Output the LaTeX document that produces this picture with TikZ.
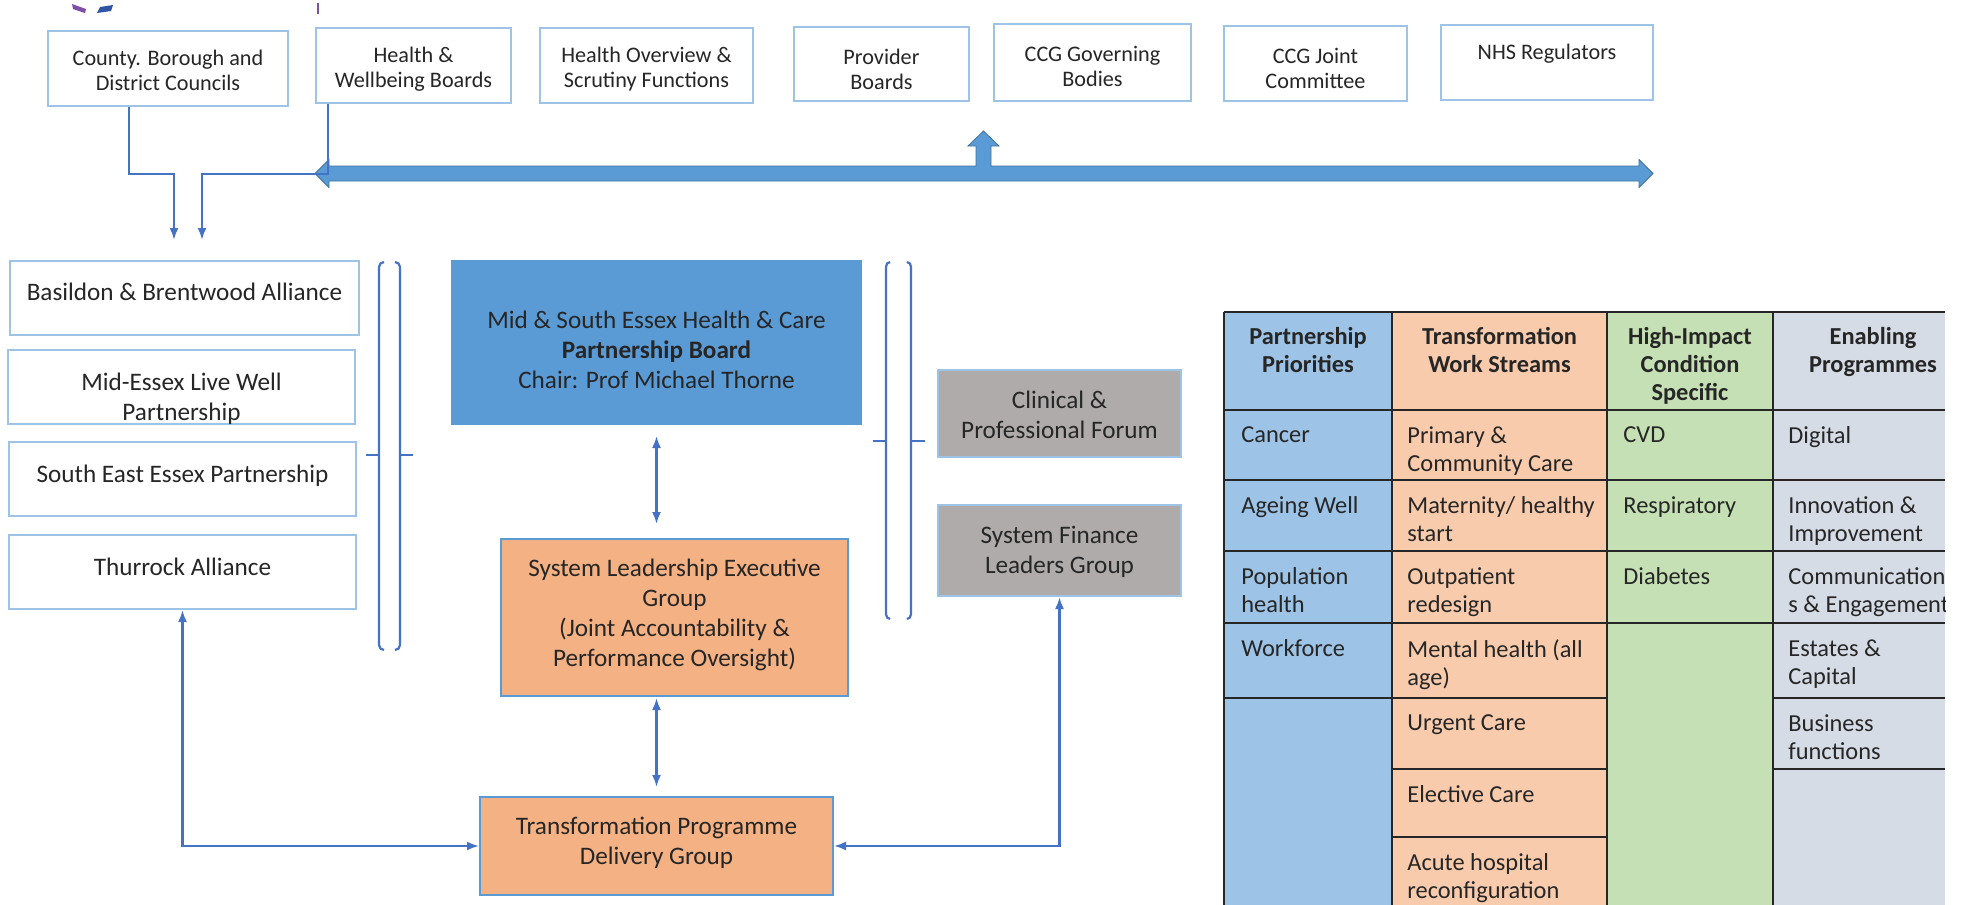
\documentclass[tikz,border=0pt]{standalone}
\usepackage{fontspec}
\setmainfont{Carlito}
\usetikzlibrary{arrows.meta}
\definecolor{lnblue}{HTML}{4472C4}
\definecolor{bdblue}{HTML}{9DC3E6}
\definecolor{boardfill}{HTML}{5B9BD5}
\definecolor{orfill}{HTML}{F4B183}
\definecolor{gyfill}{HTML}{AFABAB}
\definecolor{tblue}{HTML}{9DC3E6}
\definecolor{tpeach}{HTML}{F8CBAD}
\definecolor{tgreen}{HTML}{C5E0B4}
\definecolor{tgrey}{HTML}{D6DCE5}
\definecolor{txtc}{HTML}{262626}
\definecolor{arrfill}{HTML}{5B9BD5}
\definecolor{arrdraw}{HTML}{41719C}
\definecolor{logopurple}{HTML}{7F4FA8}
\definecolor{logoblue}{HTML}{2F55A4}
\tikzset{
  box/.style={draw=bdblue, line width=1pt, fill=white, inner sep=0pt},
  gbox/.style={draw=bdblue, line width=1pt, fill=gyfill, inner sep=0pt},
  obox/.style={draw=boardfill, line width=1pt, fill=orfill, inner sep=0pt},
  bbox/.style={draw=boardfill, line width=1pt, fill=boardfill, inner sep=0pt},
  toptxt/.style={text=txtc, align=center, inner sep=0pt, font=\fontsize{11.1}{12.5}\selectfont},
  midtxt/.style={text=txtc, align=center, inner sep=0pt, font=\fontsize{12.6}{15}\selectfont},
  cell/.style={text=txtc, align=left, anchor=north west, inner sep=0pt, font=\fontsize{12.2}{14}\selectfont},
  head/.style={text=txtc, align=center, anchor=north, inner sep=0pt, font=\fontsize{12.2}{14}\selectfont\bfseries},
  conn/.style={draw=lnblue, line width=1.1pt},
  tip/.style={-{Latex[length=6pt,width=4.5pt]}},
  tips/.style={{Latex[length=6pt,width=4.5pt]}-{Latex[length=6pt,width=4.5pt]}},
  brk/.style={draw=lnblue, line width=1.1pt},
  tline/.style={draw=txtc, line width=1.2pt},
}
\begin{document}
\begin{tikzpicture}[x=0.5pt,y=-0.5pt]
\useasboundingbox (0,0) rectangle (1961,905);
\fill[white] (0,0) rectangle (1961,905);

% logo fragments
\fill[logopurple] (72,4) -- (86,9) -- (85,13) -- (73,9) -- cycle;
\fill[logoblue] (97,13) -- (100,7) -- (113,5) -- (111,11) -- cycle;
\draw[logopurple, line width=1pt] (318,3) -- (318,14);

% top boxes
\node[box, minimum width=120pt, minimum height=37.5pt] (county) at (168,68.5) {};
\node[toptxt] (countyT) at (168,70) {County. Borough and\\District Councils};
\node[box, minimum width=97.5pt, minimum height=37.5pt] (hw) at (413.5,65.5) {};
\node[toptxt] (hwT) at (413.5,69.5) {Health \&\\Wellbeing Boards};
\node[box, minimum width=106.5pt, minimum height=37.5pt] (hosf) at (646.5,65.5) {};
\node[toptxt] (hosfT) at (646.5,69.5) {Health Overview \&\\Scrutiny Functions};
\node[box, minimum width=87.5pt, minimum height=37pt] (prov) at (881.5,64) {};
\node[toptxt] (provT) at (881.5,69) {Provider\\Boards};
\node[box, minimum width=98.5pt, minimum height=38.5pt] (ccgg) at (1092.5,62.5) {};
\node[toptxt] (ccggT) at (1092.5,66) {CCG Governing\\Bodies};
\node[box, minimum width=91.5pt, minimum height=37.5pt] (ccgj) at (1315.5,63.5) {};
\node[toptxt] (ccgjT) at (1315.5,68) {CCG Joint\\Committee};
\node[box, minimum width=106pt, minimum height=37.5pt] (nhs) at (1547,62.5) {};
\node[toptxt] (nhsT) at (1547,54) {NHS Regulators};

% big blue arrow
\filldraw[fill=arrfill, draw=arrdraw, line width=0.4pt]
  (315,173.5) -- (329,159.5) -- (329,166) -- (976,166) -- (976,146) -- (968,146)
  -- (983.5,131) -- (999,146) -- (991,146) -- (991,166) -- (1639,166) -- (1639,159.5)
  -- (1653,173.5) -- (1639,187.5) -- (1639,181) -- (329,181) -- (329,187.5) -- cycle;

% left boxes
\node[box, minimum width=174.5pt, minimum height=37pt] (bas) at (184.5,298) {};
\node[midtxt] (basT) at (184.5,291.5) {Basildon \& Brentwood Alliance};
\node[box, minimum width=173.5pt, minimum height=37pt] (mid) at (181.5,387) {};
\node[midtxt] (midT) at (181.5,398.5) {Mid-Essex Live Well\\Partnership};
\node[box, minimum width=173.5pt, minimum height=37pt] (see) at (182.5,479) {};
\node[midtxt] (seeT) at (182.5,475.5) {South East Essex Partnership};
\node[box, minimum width=173.5pt, minimum height=37pt] (thur) at (182.5,572) {};
\node[midtxt] (thurT) at (182.5,566.5) {Thurrock Alliance};

% connectors from top
\coordinate (j1) at (174,240);
\coordinate (j2) at (202,240);
\draw[conn, tip] ([xshift=-19.5pt]county.south) -- ++(0,67) -| (j1);
\draw[conn, tip] ([xshift=-42.75pt]hw.south) -- ++(0,70) -| (j2);

% centre boxes
\node[bbox, minimum width=204.5pt, minimum height=81.5pt] (board) at (656.5,342.5) {};
\node[midtxt] (boardT) at (656.5,350) {Mid \& South Essex Health \& Care\\\textbf{Partnership Board}\\Chair: Prof Michael Thorne};
\node[obox, minimum width=173.5pt, minimum height=78.5pt] (sleg) at (674.5,617.5) {};
\node[midtxt] (slegT) at (674.5,614.5) {System Leadership Executive\\Group\\(Joint Accountability \&\\Performance Oversight)};
\node[obox, minimum width=176.5pt, minimum height=49pt] (tpdg) at (656.5,846) {};
\node[midtxt] (tpdgT) at (656.5,843) {Transformation Programme\\Delivery Group};
\node[gbox, minimum width=121.5pt, minimum height=43.5pt] (clin) at (1059.5,413.5) {};
\node[midtxt] (clinT) at (1059.5,414.5) {Clinical \&\\Professional Forum};
\node[gbox, minimum width=121.5pt, minimum height=45.5pt] (fin) at (1059.5,550.5) {};
\node[midtxt] (finT) at (1059.5,552) {System Finance\\Leaders Group};

% brackets
\draw[brk] (384,262) to[out=180,in=90] (379,267) -- (379,645) to[out=-90,in=180] (384,650);
\draw[brk] (379,455) -- (366,455);
\draw[brk] (395,262) to[out=0,in=90] (400,267) -- (400,645) to[out=-90,in=0] (395,650);
\draw[brk] (400,455) -- (413,455);
\draw[brk] (890,262) to[out=180,in=90] (886,267) -- (886,614) to[out=-90,in=180] (890,619);
\draw[brk] (886,441) -- (873,441);
\draw[brk] (907,262) to[out=0,in=90] (911,267) -- (911,614) to[out=-90,in=0] (907,619);
\draw[brk] (911,441) -- (925,441);

% centre connectors
\draw[conn, tips, shorten <=5.5pt, shorten >=7pt] (board.south) -- (board.south |- sleg.north);
\draw[conn, tips, shorten <=0.5pt, shorten >=4.5pt] (sleg.south -| tpdg.north) -- (tpdg.north);
\draw[conn, tips] (thur.south) |- (tpdg.west);
\draw[conn, tips] (fin.south) |- (tpdg.east);

% table
\fill[tblue] (1224,312) rectangle (1392,905);
\fill[tpeach] (1392,312) rectangle (1607,905);
\fill[tgreen] (1607,312) rectangle (1773,905);
\fill[tgrey] (1773,312) rectangle (1945,905);
\foreach \yy in {312,410,480,551,623} {\draw[tline] (1224,\yy) -- (1945,\yy);}
\draw[tline] (1224,698) -- (1607,698);
\draw[tline] (1773,698) -- (1945,698);
\draw[tline] (1392,769) -- (1607,769);
\draw[tline] (1773,769) -- (1945,769);
\draw[tline] (1392,837) -- (1607,837);
\foreach \xx in {1224,1392,1607,1773} {\draw[tline] (\xx,312) -- (\xx,905);}

\node[head] (h1) at (1308,327) {Partnership\\Priorities};
\node[head] (h2) at (1499.5,327) {Transformation\\Work Streams};
\node[head] (h3) at (1690,327) {High-Impact\\Condition\\Specific};

\node[cell] (a1) at (1241,426) {Cancer};
\node[cell] (a2) at (1241,496) {Ageing Well};
\node[cell] (a3) at (1241,567) {Population\\health};
\node[cell] (a4) at (1241,639) {Workforce};

\node[cell] (b1) at (1407,426) {Primary \&\\Community Care};
\node[cell] (b2) at (1407,496) {Maternity/ healthy\\start};
\node[cell] (b3) at (1407,567) {Outpatient\\redesign};
\node[cell] (b4) at (1407,639) {Mental health (all\\age)};
\node[cell] (b5) at (1407,714) {Urgent Care};
\node[cell] (b6) at (1407,785) {Elective Care};
\node[cell] (b7) at (1407,853) {Acute hospital\\reconfiguration};

\node[cell] (c1) at (1623,426) {CVD};
\node[cell] (c2) at (1623,496) {Respiratory};
\node[cell] (c3) at (1623,567) {Diabetes};

\begin{scope}
\clip (1773,300) rectangle (1945,905);
\node[head] (h4) at (1873,327) {Enabling\\Programmes};
\node[cell] (d1) at (1788,426) {Digital};
\node[cell] (d2) at (1788,496) {Innovation \&\\Improvement};
\node[cell] (d3) at (1788,567) {Communication\\s \& Engagement};
\node[cell] (d4) at (1788,639) {Estates \&\\Capital};
\node[cell] (d5) at (1788,714) {Business\\functions};
\end{scope}
\end{tikzpicture}
\end{document}
